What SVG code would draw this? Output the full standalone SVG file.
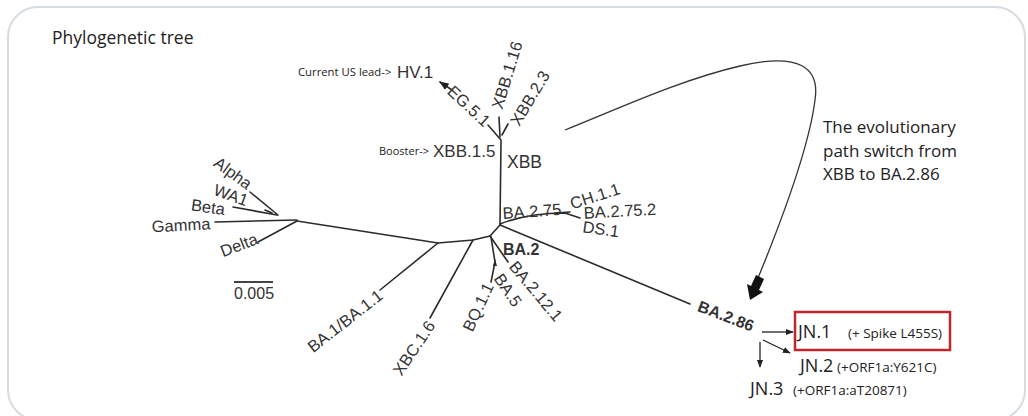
<svg xmlns="http://www.w3.org/2000/svg" width="1028" height="416" viewBox="0 0 1028 416">
<style>
.br{fill:none;stroke:#2b2b2b;stroke-width:1.6;stroke-linecap:round;stroke-linejoin:round}
.lb{font-family:"Liberation Sans",Arial,sans-serif;font-size:16.5px;fill:#333}
.lbc{font-family:"Liberation Sans",Arial,sans-serif;font-size:16.5px;fill:#333;text-anchor:middle}
.ca{font-family:"Open Sans","Noto Sans",sans-serif;fill:#222}
.ar{fill:none;stroke:#222;stroke-width:1.3}
</style>
<defs>
<marker id="ah" viewBox="0 0 10 10" refX="9" refY="5" markerWidth="6" markerHeight="6" orient="auto">
<path d="M0,1 L10,5 L0,9 z" fill="#222"/>
</marker>
</defs>
<rect x="8" y="7" width="1017" height="413" rx="30" fill="#fff" stroke="#d4dce2" stroke-width="2"/>
<text x="52" y="44" class="ca" font-size="17.5">Phylogenetic tree</text>

<g id="connectors">
<polyline class="br" points="297,221 438,243 473,240 490,236 500,225"/>
<line class="br" x1="297" y1="221" x2="258" y2="242"/>
<line class="br" x1="297" y1="220" x2="215" y2="222"/>
<line class="br" x1="277" y1="215" x2="233" y2="207"/>
<line class="br" x1="278" y1="215" x2="250" y2="192"/>
<line class="br" x1="265" y1="210" x2="272" y2="213"/>
<line class="br" x1="438" y1="243" x2="380" y2="290"/>
<line class="br" x1="473" y1="240" x2="430" y2="318"/>
<line class="br" x1="490" y1="236" x2="508" y2="262"/>
<polyline class="br" points="491,237 495,262 491,282"/>
<path d="M495,259 l-2,7 l4,0 z" fill="#2b2b2b"/>
<line class="br" x1="500" y1="225" x2="690" y2="304"/>
<path class="br" d="M500,224 Q528,213 565,213 L580,218"/>
<line class="br" x1="555" y1="213" x2="570" y2="212"/>
<polyline class="br" points="500,225 501,140 488,125"/>
<line class="br" x1="500" y1="137" x2="499" y2="117"/>
<line class="br" x1="502" y1="135" x2="508" y2="124"/>
<line class="br" x1="452" y1="90" x2="440" y2="82" marker-end="url(#ah)"/>
<line x1="234" y1="282" x2="273" y2="282" stroke="#444" stroke-width="2.2"/>
<path fill="none" stroke="#333" stroke-width="1.3" d="M565,130 C620,108 680,80 740,66 C800,52 820,68 815,100 C810,140 790,200 758,278"/>
<polygon fill="#111" points="764,279 759,290 763,292 750,300 747,284 751,286 756,275"/>
<line class="ar" x1="762" y1="332" x2="793" y2="332" marker-end="url(#ah)"/>
<line class="ar" x1="760" y1="342" x2="760" y2="367" marker-end="url(#ah)"/>
<line class="ar" x1="763" y1="340" x2="790" y2="353" marker-end="url(#ah)"/>
</g>

<g id="left-cluster">
<text class="lbc" dy="0.35em" transform="translate(233,173) rotate(36)">Alpha</text>
<text class="lbc" dy="0.35em" transform="translate(231,195) rotate(20)">WA1</text>
<text class="lbc" dy="0.35em" transform="translate(208,207) rotate(8)">Beta</text>
<text class="lbc" dy="0.35em" transform="translate(181,225) rotate(-3)">Gamma</text>
<text class="lbc" dy="0.35em" transform="translate(239,245) rotate(-21)">Delta</text>
</g>
<g id="scale"><text x="234" y="299" class="lb" fill="#555" style="font-size:16px">0.005</text></g>
<g id="ba1"><text class="lbc" dy="0.35em" transform="translate(345,321) rotate(-38)">BA.1/BA.1.1</text></g>
<g id="xbc"><text class="lbc" dy="0.35em" transform="translate(414,348) rotate(-56)">XBC.1.6</text></g>
<g id="bq"><text class="lbc" dy="0.35em" transform="translate(478,307) rotate(-65)">BQ.1.1</text></g>
<g id="ba5"><text class="lbc" dy="0.35em" transform="translate(508,290) rotate(56)">BA.5</text></g>
<g id="ba2121"><text class="lbc" dy="0.35em" transform="translate(536,291) rotate(50)">BA.2.12.1</text></g>
<g id="ba2"><text x="503" y="255" class="lb" font-weight="bold" fill="#222" style="font-size:16px">BA.2</text></g>
<g id="ba275">
<text class="lb" transform="translate(503,219) rotate(-4)">BA.2.75</text>
<text class="lbc" dy="0.35em" transform="translate(595,196) rotate(-18)">CH.1.1</text>
<text class="lbc" dy="0.35em" transform="translate(620,211) rotate(-3)">BA.2.75.2</text>
<text class="lbc" dy="0.35em" transform="translate(601,229) rotate(8)">DS.1</text>
</g>
<g id="ba286"><text class="lbc" dy="0.35em" font-weight="bold" fill="#222" transform="translate(726,316) rotate(21)" style="font-size:16px">BA.2.86</text></g>
<g id="xbb">
<text x="507" y="168" class="lb" style="font-size:17.5px">XBB</text>
<text x="433" y="157" class="lb" style="font-size:17px">XBB.1.5</text>
<text x="379" y="155" class="ca" font-size="11">Booster-&gt;</text>
<text class="lbc" dy="0.35em" transform="translate(469,106) rotate(43)">EG.5.1</text>
<text class="lbc" dy="0.35em" transform="translate(507,75) rotate(-73)">XBB.1.16</text>
<text class="lbc" dy="0.35em" transform="translate(530,98) rotate(-59)">XBB.2.3</text>
</g>
<g id="hv1">
<text x="298" y="76" class="ca" font-size="11.3">Current US lead-&gt;</text>
<text x="397" y="78" class="lb" fill="#111" style="font-size:17px">HV.1</text>
</g>
<g id="note">
<text class="ca" font-size="17" x="823" y="133">The evolutionary</text>
<text class="ca" font-size="17" x="823" y="157">path switch from</text>
<text class="ca" font-size="17" x="823" y="180">XBB to BA.2.86</text>
</g>
<g id="jn1">
<rect x="795" y="312" width="155" height="38" fill="none" stroke="#c0272d" stroke-width="2.5"/>
<text x="798" y="338" class="ca" font-size="18">JN.1</text>
<text x="848" y="338" class="ca" font-size="13.5">(+ Spike L455S)</text>
</g>
<g id="jn2">
<text x="800" y="372" class="ca" font-size="18">JN.2</text>
<text x="837" y="372" class="ca" font-size="13.5">(+ORF1a:Y621C)</text>
</g>
<g id="jn3">
<text x="750" y="395" class="ca" font-size="18">JN.3</text>
<text x="793" y="395" class="ca" font-size="13.5">(+ORF1a:aT20871)</text>
</g>
</svg>
